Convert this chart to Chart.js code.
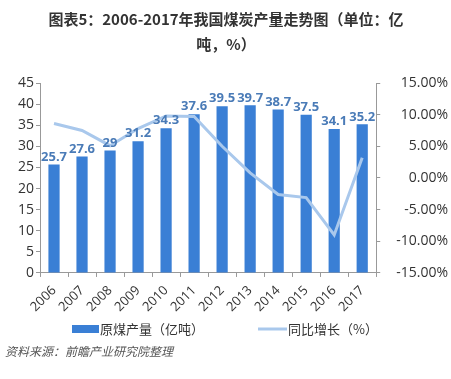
<!DOCTYPE html>
<html>
<head>
<meta charset="utf-8">
<script src="https://cdn.jsdelivr.net/npm/chart.js@4/dist/chart.umd.min.js"></script>
<style>
  html, body { margin: 0; padding: 0; background: #fff; }
  #wrap { position: relative; width: 451px; height: 379px; }
</style>
</head>
<body>
<div id="wrap"><canvas id="coalChart" width="451" height="379"></canvas></div>
<script>
const years = ['2006', '2007', '2008', '2009', '2010', '2011', '2012', '2013', '2014', '2015', '2016', '2017'];
const output = [25.7, 27.6, 29.0, 31.2, 34.3, 37.6, 39.5, 39.7, 38.7, 37.5, 34.1, 35.2];
const growth = [8.6, 7.5, 5.1, 7.8, 9.8, 9.7, 5.0, 0.8, -2.6, -3.1, -9.0, 3.2];
const titleLines = ['图表5：2006-2017年我国煤炭产量走势图（单位：亿', '吨，%）'];
const sourceText = '资料来源：前瞻产业研究院整理';

const CJK = '"Noto Sans CJK SC", sans-serif';
const NUM = '"Open Sans", "Noto Sans", sans-serif';
const barColor = '#3a7fd5';
const lineColor = '#a9c8ec';

// title, bar value labels, legend and source line
const extras = {
    id: 'extras',
    afterDraw(chart) {
        const ctx = chart.ctx;
        ctx.save();

        ctx.fillStyle = '#333';
        ctx.font = 'bold 15px ' + CJK;
        ctx.textAlign = 'center';
        ctx.textBaseline = 'middle';
        ctx.fillText(titleLines[0], 226, 19);
        ctx.fillText(titleLines[1], 226, 44);

        // values above bars
        const meta = chart.getDatasetMeta(0);
        ctx.fillStyle = '#4a7bb7';
        ctx.font = 'bold 13px ' + NUM;
        ctx.textBaseline = 'bottom';
        meta.data.forEach((bar, i) => {
            ctx.fillText(output[i].toFixed(1).replace(/\.0$/, ''), bar.x, bar.y - 1);
        });

        // legend
        const ds = chart.data.datasets;
        ctx.font = '13px ' + CJK;
        ctx.textAlign = 'left';
        ctx.textBaseline = 'middle';
        ctx.fillStyle = barColor;
        ctx.fillRect(72, 325, 27, 8);
        ctx.fillStyle = '#333';
        ctx.fillText(ds[0].label, 100, 329);
        ctx.strokeStyle = lineColor;
        ctx.lineWidth = 3;
        ctx.beginPath();
        ctx.moveTo(258, 329);
        ctx.lineTo(287, 329);
        ctx.stroke();
        ctx.fillText(ds[1].label, 288, 329);

        // source
        ctx.fillStyle = '#555';
        ctx.font = 'italic 12px ' + CJK;
        ctx.fillText(sourceText, 5, 351);

        ctx.restore();
    }
};

new Chart(document.getElementById('coalChart'), {
    type: 'bar',
    data: {
        labels: years,
        datasets: [{
            label: '原煤产量（亿吨）',
            data: output,
            backgroundColor: barColor,
            barPercentage: 0.4,
            categoryPercentage: 1,
            yAxisID: 'y',
            order: 2
        }, {
            type: 'line',
            label: '同比增长（%）',
            data: growth,
            borderColor: lineColor,
            borderWidth: 3,
            pointRadius: 0,
            tension: 0,
            yAxisID: 'y1',
            order: 1
        }]
    },
    options: {
        responsive: false,
        animation: false,
        layout: { padding: { top: 83, left: 16, right: 3, bottom: 58 } },
        plugins: {
            legend: { display: false },
            title: { display: false },
            tooltip: { enabled: false }
        },
        scales: {
            x: {
                grid: { drawOnChartArea: false, tickLength: 4, color: '#999' },
                border: { color: '#999' },
                ticks: {
                    color: '#333',
                    font: { family: NUM, size: 13 },
                    maxRotation: 45,
                    minRotation: 45,
                    padding: 6
                }
            },
            y: {
                min: 0,
                max: 45,
                ticks: { stepSize: 5, color: '#333', font: { family: NUM, size: 14 }, padding: 2 },
                grid: { drawOnChartArea: false, tickLength: 4, color: '#999' },
                border: { color: '#999' }
            },
            y1: {
                position: 'right',
                min: -15,
                max: 15,
                ticks: {
                    stepSize: 5,
                    color: '#333',
                    font: { family: NUM, size: 14 },
                    padding: 8,
                    crossAlign: 'far',
                    callback: v => v.toFixed(2) + '%'
                },
                grid: { drawOnChartArea: false, tickLength: 4, color: '#999' },
                border: { color: '#999' }
            }
        }
    },
    plugins: [extras]
});
</script>
</body>
</html>
